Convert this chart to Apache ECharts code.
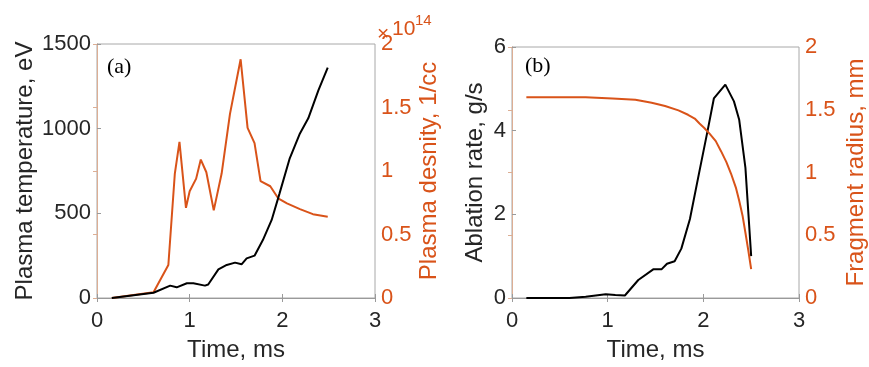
<!DOCTYPE html>
<html>
<head>
<meta charset="utf-8">
<script src="https://cdn.jsdelivr.net/npm/echarts@6/dist/echarts.min.js"></script>
<style>
  html, body { margin: 0; padding: 0; background: #fff; }
  #chart { width: 869px; height: 367px; }
</style>
</head>
<body>
<div id="chart"></div>
<script>
// Panel (a): plasma temperature and plasma density vs time
const tempTime = [0.16, 0.61, 0.79, 0.86, 0.97, 1.04, 1.165, 1.2, 1.31, 1.40, 1.49, 1.56, 1.615, 1.70, 1.79, 1.885, 1.97, 2.08, 2.19, 2.28, 2.39, 2.49];
const tempVal  = [0, 31, 73, 63, 87, 87, 73, 80, 169, 195, 209, 199, 234, 250, 342, 461, 618, 825, 972, 1061, 1228, 1360];

// density in units of 1e14 per cc
const densTime = [0.16, 0.61, 0.77, 0.84, 0.89, 0.96, 1.00, 1.07, 1.12, 1.18, 1.26, 1.345, 1.435, 1.55, 1.625, 1.70, 1.765, 1.87, 1.955, 2.05, 2.19, 2.33, 2.49];
const densVal  = [0, 0.045, 0.26, 0.98, 1.23, 0.71, 0.84, 0.94, 1.09, 0.99, 0.69, 0.98, 1.45, 1.88, 1.34, 1.22, 0.92, 0.88, 0.785, 0.745, 0.70, 0.66, 0.64];

// Panel (b): ablation rate and fragment radius vs time
const ablTime = [0.15, 0.60, 0.77, 0.98, 1.08, 1.18, 1.32, 1.48, 1.565, 1.62, 1.70, 1.77, 1.86, 1.96, 2.05, 2.11, 2.23, 2.32, 2.375, 2.44, 2.50];
const ablVal  = [0, 0, 0.03, 0.09, 0.07, 0.06, 0.43, 0.69, 0.69, 0.82, 0.88, 1.18, 1.89, 3.04, 4.06, 4.77, 5.10, 4.70, 4.26, 3.11, 1.0];

const radTime = [0.15, 0.77, 1.05, 1.29, 1.46, 1.60, 1.74, 1.84, 1.91, 1.96, 2.01, 2.065, 2.13, 2.185, 2.24, 2.29, 2.34, 2.375, 2.41, 2.44, 2.47, 2.50];
const radVal  = [1.60, 1.60, 1.59, 1.58, 1.555, 1.53, 1.495, 1.46, 1.43, 1.39, 1.355, 1.31, 1.25, 1.17, 1.085, 0.99, 0.88, 0.775, 0.656, 0.52, 0.38, 0.23];

const timeTicks = [0, 3, 1];        // min, max, step
const tempTicks = [0, 1500, 500];
const densTicks = [0, 2, 0.5];
const ablTicks  = [0, 6, 2];
const radTicks  = [0, 2, 0.5];

const BLACK = '#000000';
const ORANGE = '#D95319';
const TEXT = '#262626';
const FONT = '"Liberation Sans", Arial, sans-serif';

const zip = (xs, ys) => xs.map((x, i) => [x, ys[i]]);
const plain = v => String(v);

const chart = echarts.init(document.getElementById('chart'), null, { renderer: 'canvas' });

function xAxisFor(grid) {
  return {
    gridIndex: grid, type: 'value',
    min: timeTicks[0], max: timeTicks[1], interval: timeTicks[2],
    name: 'Time, ms', nameLocation: 'middle', nameGap: 40,
    nameTextStyle: { fontSize: 24, color: TEXT, fontFamily: FONT },
    axisLine: { lineStyle: { color: '#9a9a9a', width: 1 } },
    axisTick: { inside: true, length: 4, lineStyle: { color: '#9a9a9a' } },
    axisLabel: { fontSize: 22, color: TEXT, fontFamily: FONT, margin: 12, formatter: plain },
    splitLine: { show: false }
  };
}
function topAxisFor(grid) {
  return {
    gridIndex: grid, type: 'value', position: 'top',
    min: timeTicks[0], max: timeTicks[1], interval: timeTicks[2],
    axisLine: { show: false },
    axisTick: { inside: true, length: 4, lineStyle: { color: '#9a9a9a' } },
    axisLabel: { show: false }, splitLine: { show: false }
  };
}
function yAxisFor(grid, ticks, name, side, color, lineColor, gap) {
  return {
    gridIndex: grid, type: 'value', position: side,
    min: ticks[0], max: ticks[1], interval: ticks[2],
    name: name, nameLocation: 'middle', nameGap: gap,
    nameTextStyle: { fontSize: 24, color: color, fontFamily: FONT },
    axisLine: { show: true, lineStyle: { color: lineColor, width: 1 } },
    axisTick: { show: true, inside: true, length: 4, lineStyle: { color: lineColor } },
    axisLabel: { fontSize: 22, color: color, fontFamily: FONT, margin: 6, formatter: plain },
    splitLine: { show: false }
  };
}

const option = {
  animation: false,
  backgroundColor: '#ffffff',
  grid: [
    { left: 97, top: 44, width: 278, height: 254, show: true, borderColor: '#a8a8a8', borderWidth: 1 },
    { left: 512, top: 47, width: 290, height: 254, show: true, borderColor: '#a8a8a8', borderWidth: 1 }
  ],
  xAxis: [xAxisFor(0), xAxisFor(1), topAxisFor(0), topAxisFor(1)],
  yAxis: [
    yAxisFor(0, tempTicks, 'Plasma temperature, eV', 'left', TEXT, '#9a9a9a', 60),
    yAxisFor(0, densTicks, 'Plasma desnity, 1/cc', 'right', ORANGE, '#dcae94', 42),
    yAxisFor(1, ablTicks, 'Ablation rate, g/s', 'left', TEXT, '#9a9a9a', 25),
    yAxisFor(1, radTicks, 'Fragment radius, mm', 'right', ORANGE, '#dcae94', 45)
  ],
  series: [
    { type: 'line', xAxisIndex: 0, yAxisIndex: 1, data: zip(densTime, densVal),
      showSymbol: false, lineStyle: { color: ORANGE, width: 2 }, z: 2 },
    { type: 'line', xAxisIndex: 0, yAxisIndex: 0, data: zip(tempTime, tempVal),
      showSymbol: false, lineStyle: { color: BLACK, width: 2 }, z: 3 },
    { type: 'line', xAxisIndex: 1, yAxisIndex: 2, data: zip(ablTime, ablVal),
      showSymbol: false, lineStyle: { color: BLACK, width: 2 }, z: 2 },
    { type: 'line', xAxisIndex: 1, yAxisIndex: 3, data: zip(radTime, radVal),
      showSymbol: false, lineStyle: { color: ORANGE, width: 2 }, z: 3 }
  ],
  graphic: [
    { type: 'text', left: 107, top: 56,
      style: { text: '(a)', fontSize: 22, fontFamily: '"Liberation Serif", "Times New Roman", serif', fill: '#000' } },
    { type: 'text', left: 525, top: 55,
      style: { text: '(b)', fontSize: 22, fontFamily: '"Liberation Serif", "Times New Roman", serif', fill: '#000' } },
    { type: 'text', left: 377, top: 24,
      style: { text: '\u00d7', fontSize: 21, fontFamily: FONT, fill: ORANGE } },
    { type: 'text', left: 392, top: 19,
      style: { text: '10', fontSize: 21, fontFamily: FONT, fill: ORANGE } },
    { type: 'text', left: 415, top: 13,
      style: { text: '14', fontSize: 15, fontFamily: FONT, fill: ORANGE } }
  ]
};

chart.setOption(option);
</script>
</body>
</html>
